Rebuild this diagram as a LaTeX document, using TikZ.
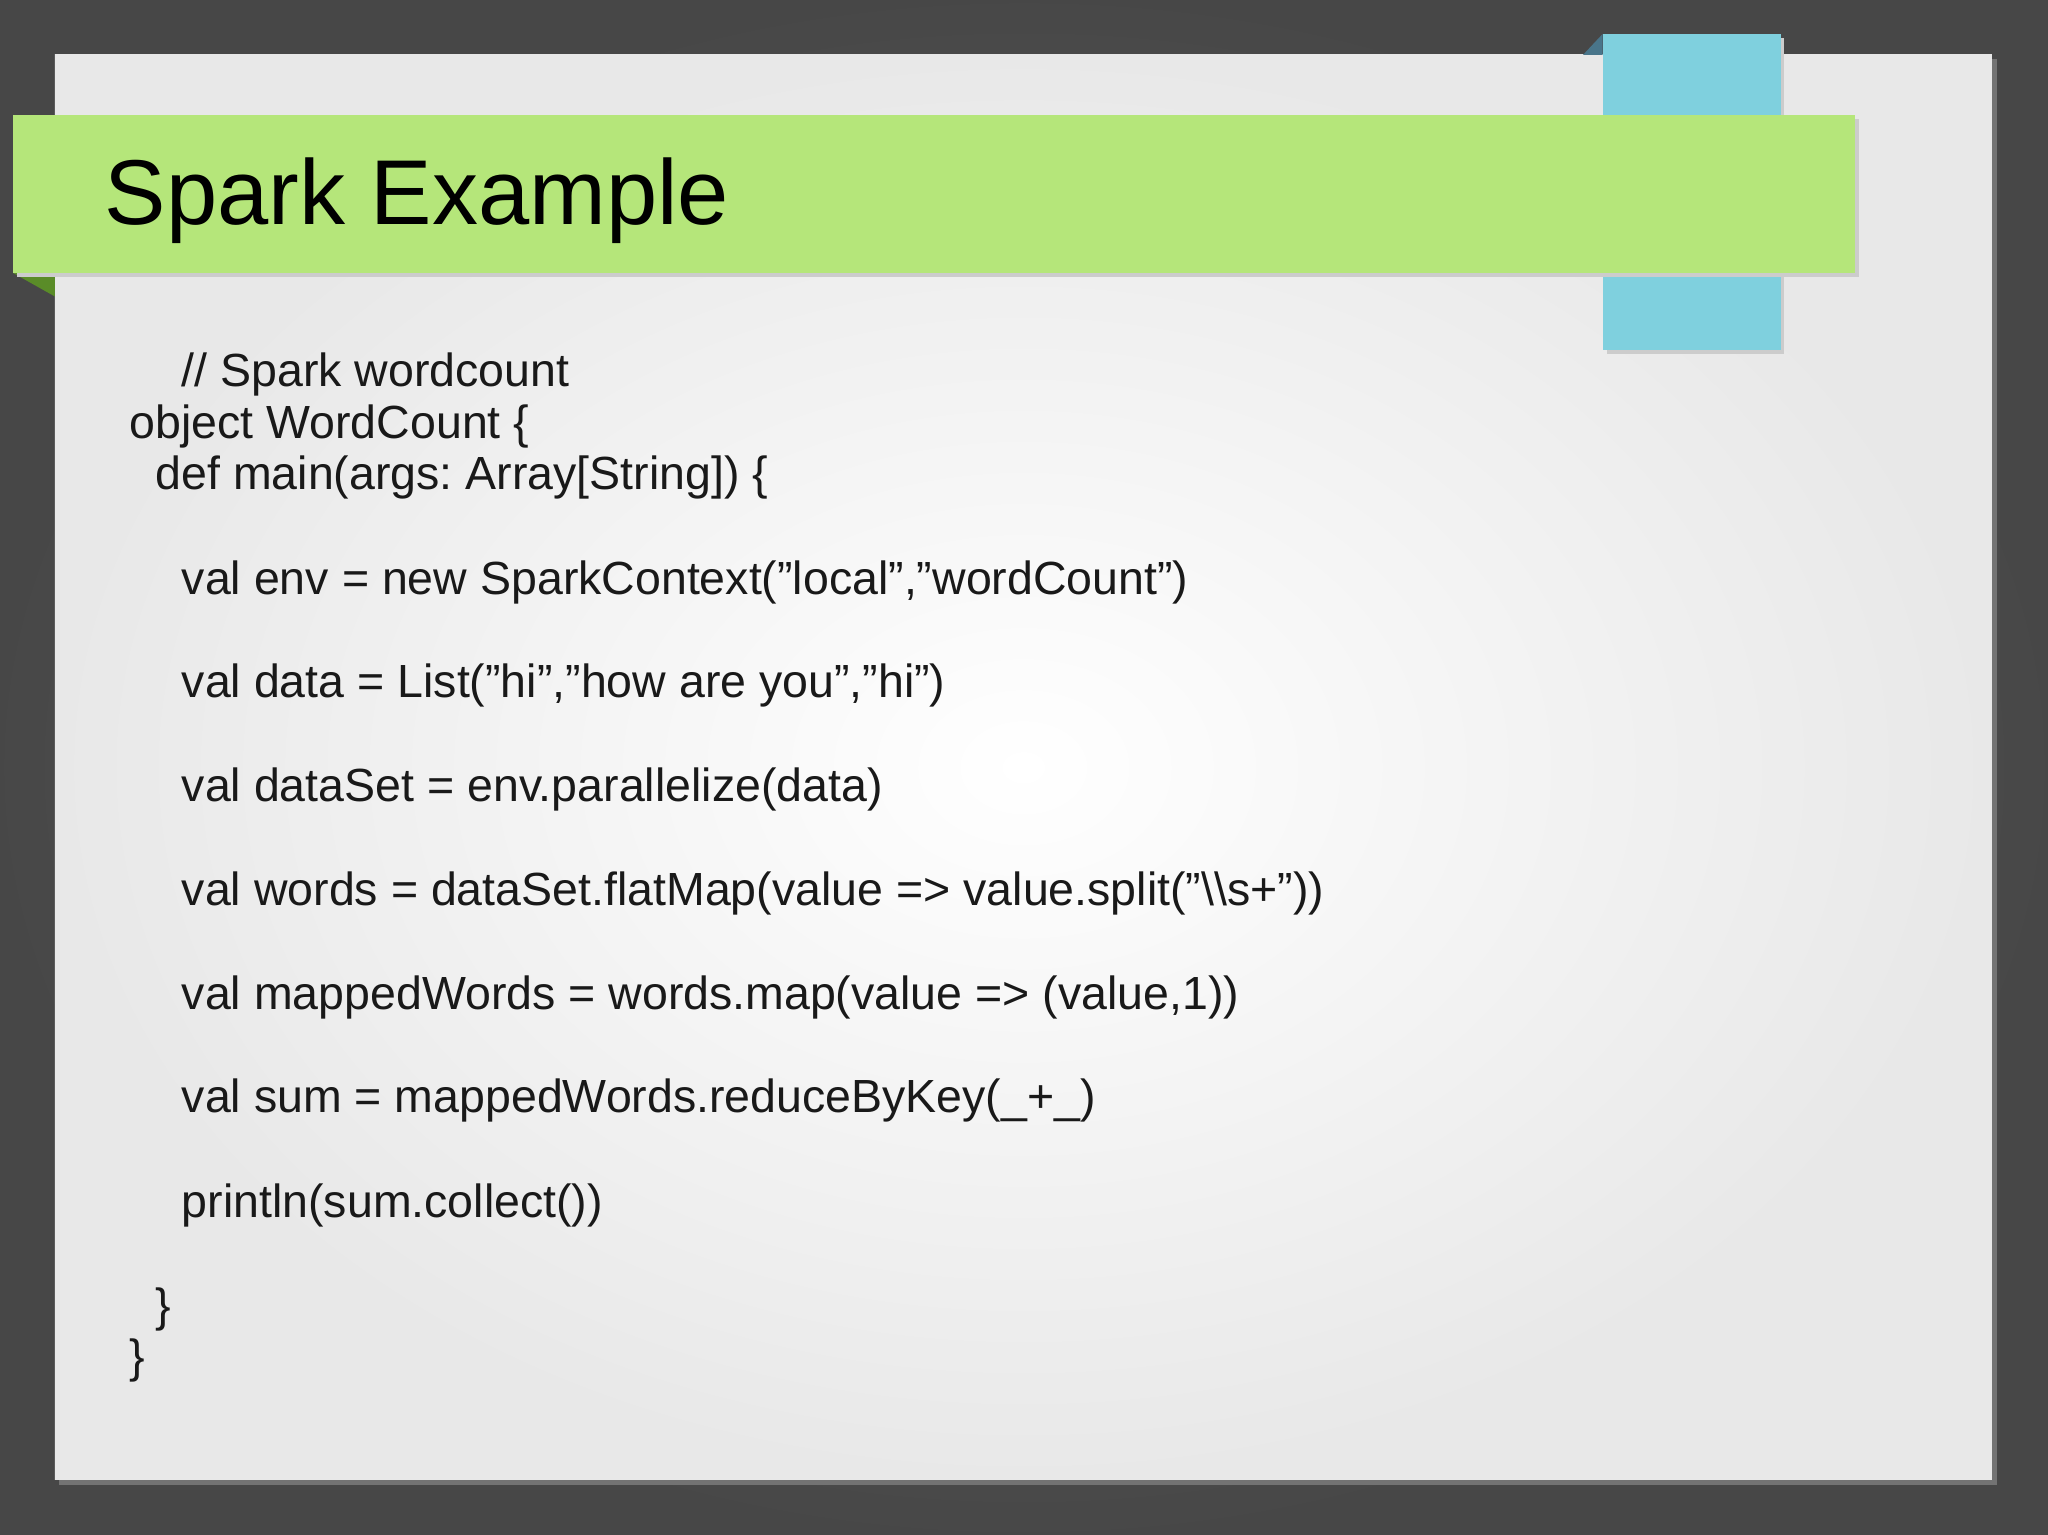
\documentclass[tikz,border=0pt]{standalone}
\usepackage{fontspec}
\setmainfont{Liberation Sans}
\frenchspacing
\newcommand{\qq}{\symbol{34}}
\definecolor{darkolive}{RGB}{90,140,40}
\begin{document}
\begin{tikzpicture}[x=1pt,y=-1pt,
  code/.style={anchor=base west,inner sep=0pt,font=\fontsize{35.6}{40}\selectfont,text=black!90}]
\useasboundingbox (0,0) rectangle (1568,1175);
\shade[inner color=black!62,outer color=black!72] (0,0) rectangle (1568,1175);
\fill[black!55] (45,45) rectangle (1529,1137);
\shade[inner color=white,outer color=gray!18] (42,42) rectangle (1525,1133);
\fill[cyan!40!teal!70!black] (1212,42) -- (1227,26) -- (1227,42) -- cycle;
\fill[black!20] (1230,29) rectangle (1366,271);
\node[fill={rgb,255:red,127;green,208;blue,222},minimum width=136pt,minimum height=242pt,inner sep=0pt,anchor=north west] (blue) at (1227,26) {};
\fill[darkolive] (10,209) -- (42,209) -- (42,227) -- cycle;
\fill[black!20] (13,91) rectangle (1423,212);
\node[fill={rgb,255:red,181;green,230;blue,122},minimum width=1410pt,minimum height=121pt,inner sep=0pt,anchor=north west] (banner) at (10,88) {};
\node[anchor=base west,inner sep=0pt,font=\fontsize{70.5}{74}\selectfont] (title) at (80,172) {Spark Example};
\node[code] (l1) at (139,296) {// Spark wordcount};
\node[code] (l2) at (99,336) {object WordCount \{};
\node[code] (l3) at (119,375) {def main(args: Array[String]) \{};
\node[code] (l4) at (139,455) {val env = new SparkContext(\qq local\qq,\qq wordCount\qq)};
\node[code] (l5) at (139,534) {val data = List(\qq hi\qq,\qq how are you\qq,\qq hi\qq)};
\node[code] (l6) at (139,614) {val dataSet = env.parallelize(data)};
\node[code] (l7) at (139,693) {val words = dataSet.flatMap(value => value.split(\qq\textbackslash\textbackslash s+\qq))};
\node[code] (l8) at (139,773) {val mappedWords = words.map(value => (value,1))};
\node[code] (l9) at (139,852) {val sum = mappedWords.reduceByKey(\_+\_)};
\node[code] (l10) at (139,932) {println(sum.collect())};
\node[code] (l11) at (119,1012) {\}};
\node[code] (l12) at (99,1051) {\}};
\end{tikzpicture}
\end{document}
